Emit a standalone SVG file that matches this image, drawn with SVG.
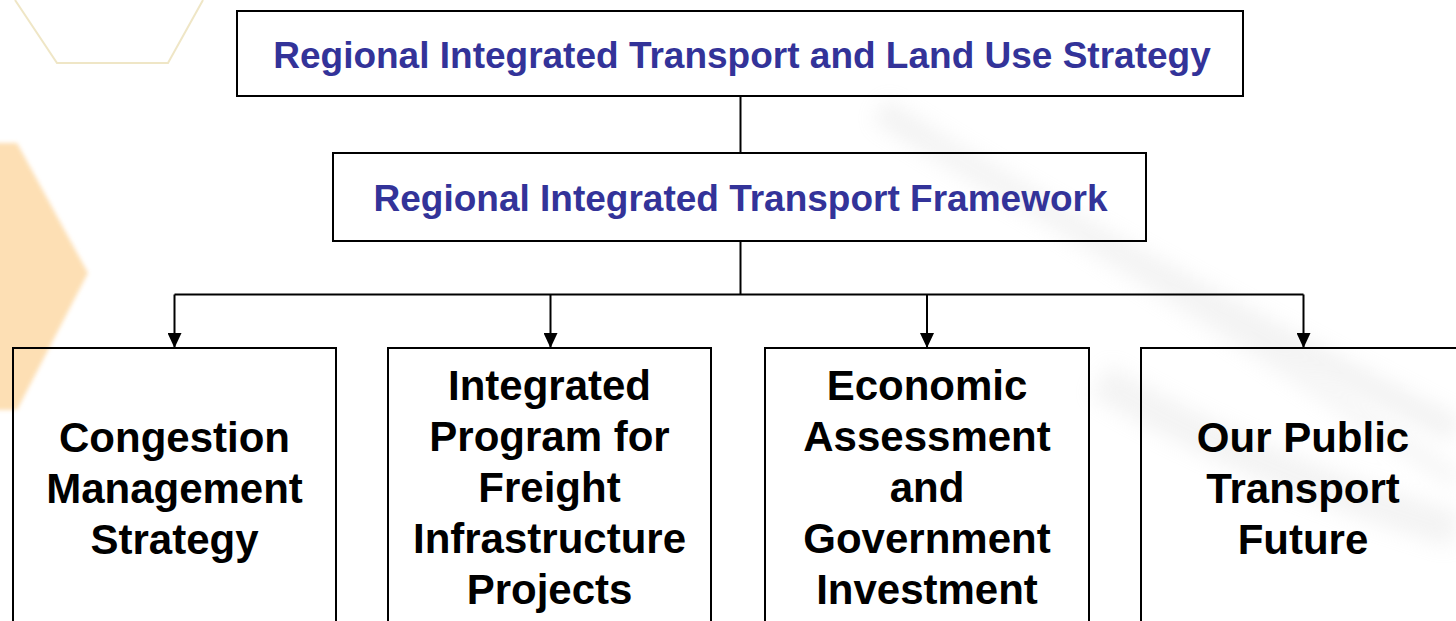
<svg xmlns="http://www.w3.org/2000/svg" width="1456" height="621" viewBox="0 0 1456 621">
  <defs>
    <style>
      .box { fill: none; stroke: #000; stroke-width: 2; }
      .conn { fill: none; stroke: #000; stroke-width: 2; }
      .title { font-family: "Liberation Sans", Arial, sans-serif; font-weight: bold; font-size: 37px; fill: #333399; text-anchor: middle; }
      .label { font-family: "Liberation Sans", Arial, sans-serif; font-weight: bold; font-size: 42px; fill: #000; text-anchor: middle; }
    </style>
    <marker id="arrow" markerWidth="15" markerHeight="14" refX="15" refY="7" orient="auto" markerUnits="userSpaceOnUse" viewBox="0 0 15 14">
      <path d="M0,0 L15,7 L0,14 Z" fill="#000"/>
    </marker>
    <filter id="blur" x="-20%" y="-20%" width="140%" height="140%">
      <feGaussianBlur stdDeviation="10"/>
    </filter>
    <filter id="blur2" x="-20%" y="-20%" width="140%" height="140%">
      <feGaussianBlur stdDeviation="2"/>
    </filter>
  </defs>

  <rect width="1456" height="621" fill="#ffffff"/>

  <!-- background decorations -->
  <g id="background">
    <polygon points="-30,143 17,143 88,273 17,410 -30,410" fill="#fddcac" opacity="0.9" filter="url(#blur2)"/>
    <polyline points="15,0 57,63 168,63 203,0" fill="none" stroke="#efe6c6" stroke-width="2"/>
    <g opacity="0.22" filter="url(#blur)">
      <path d="M880,110 C1020,200 1200,300 1456,430" stroke="#c8c8c8" stroke-width="26" fill="none"/>
      <path d="M930,140 C1080,240 1250,340 1456,480" stroke="#d0d0d0" stroke-width="16" fill="none"/>
      <path d="M1100,380 C1200,440 1320,490 1456,530" stroke="#cccccc" stroke-width="36" fill="none"/>
    </g>
  </g>

  <g id="connectors">
    <path class="conn" d="M740.5,96 L740.5,153"/>
    <path class="conn" d="M740.5,241 L740.5,294.5"/>
    <path class="conn" d="M174.5,294.5 L1303.5,294.5"/>
    <path class="conn" d="M174.5,294.5 L174.5,348" marker-end="url(#arrow)"/>
    <path class="conn" d="M550.5,294.5 L550.5,348" marker-end="url(#arrow)"/>
    <path class="conn" d="M927,294.5 L927,348" marker-end="url(#arrow)"/>
    <path class="conn" d="M1303.5,294.5 L1303.5,348" marker-end="url(#arrow)"/>
  </g>

  <g id="node-strategy">
    <rect class="box" x="237" y="11" width="1006" height="85"/>
    <text class="title" x="742" y="68">Regional Integrated Transport and Land Use Strategy</text>
  </g>

  <g id="node-framework">
    <rect class="box" x="333" y="153" width="813" height="88"/>
    <text class="title" x="740.5" y="211">Regional Integrated Transport Framework</text>
  </g>

  <g id="node-congestion">
    <rect class="box" x="13" y="348" width="323" height="300"/>
    <text class="label" x="174.5" y="452">Congestion</text>
    <text class="label" x="174.5" y="503">Management</text>
    <text class="label" x="174.5" y="554">Strategy</text>
  </g>

  <g id="node-freight">
    <rect class="box" x="388" y="348" width="323" height="300"/>
    <text class="label" x="549.5" y="400">Integrated</text>
    <text class="label" x="549.5" y="451">Program for</text>
    <text class="label" x="549.5" y="502">Freight</text>
    <text class="label" x="549.5" y="553">Infrastructure</text>
    <text class="label" x="549.5" y="604">Projects</text>
  </g>

  <g id="node-economic">
    <rect class="box" x="765" y="348" width="324" height="300"/>
    <text class="label" x="927" y="400">Economic</text>
    <text class="label" x="927" y="451">Assessment</text>
    <text class="label" x="927" y="502">and</text>
    <text class="label" x="927" y="553">Government</text>
    <text class="label" x="927" y="604">Investment</text>
  </g>

  <g id="node-public-transport">
    <rect class="box" x="1141" y="348" width="324" height="300"/>
    <text class="label" x="1303" y="452">Our Public</text>
    <text class="label" x="1303" y="503">Transport</text>
    <text class="label" x="1303" y="554">Future</text>
  </g>
</svg>
